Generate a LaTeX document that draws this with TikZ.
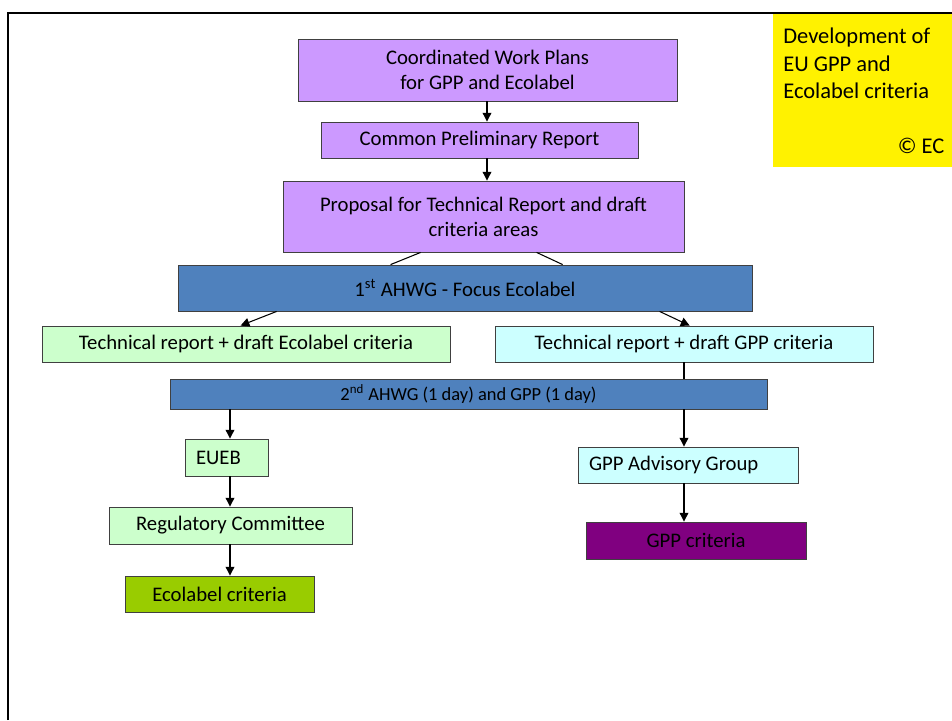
\documentclass[tikz,border=0pt]{standalone}
\usepackage{fontspec}
\setmainfont{Carlito}
\usetikzlibrary{calc,positioning,arrows.meta}
\definecolor{lilac}{HTML}{CC99FF}
\definecolor{steel}{HTML}{4F81BD}
\definecolor{mint}{HTML}{CCFFCC}
\definecolor{ice}{HTML}{CCFFFF}
\definecolor{lime}{HTML}{99CC00}
\definecolor{plum}{HTML}{800080}
\tikzstyle{box} = [draw=black!75,line width=0.5pt,inner sep=0pt,align=center,font=\fontsize{11.8}{14.2}\selectfont]
\tikzstyle{leftbox} = [box,align=flush left,inner xsep=0.22cm]
\tikzstyle{flow} = [line width=0.6pt,-{Triangle[length=5pt,width=5pt]}]
\tikzstyle{link} = [line width=0.6pt]

\begin{document}
\begin{tikzpicture}[x=0.02cm,y=-0.02cm]
    \useasboundingbox (0,0) rectangle (952,720);
    % frame of the slide
    \draw[line width=1.2pt] (8,720) -- (8,13) -- (952,13);
    % title note
    \node[fill=yellow,anchor=north west,minimum width=3.58cm,minimum height=3.06cm,inner xsep=0.2cm,text width=3.22cm,align=flush left,font=\fontsize{12.8}{15.6}\selectfont] (note) at (773,14)
        {Development of\\EU GPP and\\Ecolabel criteria\\[0.55cm]\hskip 0pt plus 1fill \textcopyright{} EC};
    % common steps
    \node[box,fill=lilac,minimum width=7.58cm,minimum height=1.24cm] (plan) at (487.5,70) {Coordinated Work Plans\\for GPP and Ecolabel};
    \node[box,fill=lilac,minimum width=6.34cm,minimum height=0.72cm] (prelim) at (479.5,140) {Common Preliminary Report};
    \node[box,fill=lilac,minimum width=8.02cm,minimum height=1.42cm] (proposal) at (483.5,216.5) {Proposal for Technical Report and draft\\criteria areas};
    \node[box,fill=steel,minimum width=11.48cm,minimum height=0.92cm] (ahwg1) at (465,288) {1\textsuperscript{st} AHWG - Focus Ecolabel};
    \node[box,fill=mint,minimum width=8.16cm,minimum height=0.72cm] (ecorep) at (246,344) {Technical report + draft Ecolabel criteria};
    \node[box,fill=ice,minimum width=7.56cm,minimum height=0.72cm] (gpprep) at (684,344) {Technical report + draft GPP criteria};
    \node[box,fill=steel,minimum width=11.94cm,minimum height=0.6cm,font=\fontsize{10.5}{12.5}\selectfont] (ahwg2) at (468.5,394) {2\textsuperscript{nd} AHWG (1 day) and GPP (1 day)};
    % Ecolabel branch
    \node[leftbox,fill=mint,text width=1.22cm,minimum height=0.74cm] (eueb) at (226.5,457.5) {EUEB};
    \node[box,fill=mint,minimum width=4.86cm,minimum height=0.74cm] (regcom) at (230.5,525.5) {Regulatory Committee};
    \node[box,fill=lime,minimum width=3.78cm,minimum height=0.72cm] (ecocrit) at (219.5,594) {Ecolabel criteria};
    % GPP branch
    \node[leftbox,fill=ice,text width=3.96cm,minimum height=0.72cm] (advis) at (688,465) {GPP Advisory Group};
    \node[box,fill=plum,minimum width=4.40cm,minimum height=0.74cm] (gppcrit) at (696,540.5) {GPP criteria};

    \draw[flow] (plan.south -| 487,0) -- (prelim.north -| 487,0);
    \draw[flow] (prelim.south -| 487,0) -- (proposal.north -| 487,0);
    \draw[link] ($(proposal.south west)+(138,0)$) -- ($(ahwg1.north west)+(213,0)$);
    \draw[link] ($(proposal.south west)+(254,0)$) -- ($(ahwg1.north west)+(385,0)$);
    \draw[flow] ($(ahwg1.south west)+(99,0)$) -- ($(ecorep.north west)+(199,0)$);
    \draw[flow] ($(ahwg1.south west)+(482,0)$) -- ($(gpprep.north west)+(195,0)$);
    \draw[link] (gpprep.south) -- (gpprep.south |- ahwg2.north);
    \draw[flow] (ahwg2.south -| 230,0) -- (eueb.north -| 230,0);
    \draw[flow] (eueb.south -| 230,0) -- (regcom.north -| 230,0);
    \draw[flow] (regcom.south -| 230,0) -- (ecocrit.north -| 230,0);
    \draw[flow] (ahwg2.south -| 684,0) -- (advis.north -| 684,0);
    \draw[flow] (advis.south -| 684,0) -- (gppcrit.north -| 684,0);
\end{tikzpicture}
\end{document}
